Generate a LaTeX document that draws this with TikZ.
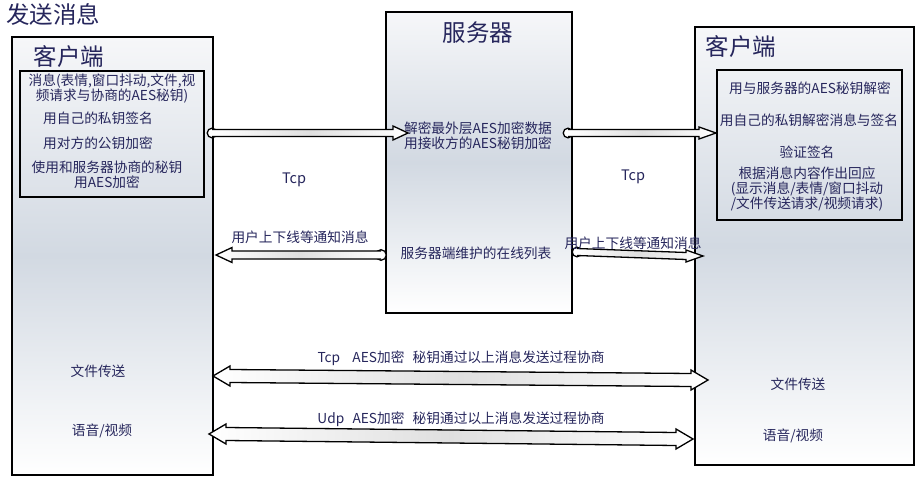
\documentclass[tikz,border=0pt]{standalone}
\usepackage{fontspec}
\setmainfont{Noto Sans CJK SC}
\usetikzlibrary{calc}
\definecolor{txt}{RGB}{38,38,92}
\definecolor{shA}{RGB}{246,247,249}
\definecolor{shM}{RGB}{210,217,226}
\newcommand\blockarrow[5]{% start, tip, h, H, L (signed)
  \draw[line width=1.3pt, fill=white] (#1) circle ({#3+1.3pt});
  \shade[left color=white, right color=white, middle color=gray!25] let \p1=(#1), \p2=(#2) in
    (\x1,\y1+#3) -- (\x2-#5,\y2+#3) -- (\x2-#5,\y2+#4) -- (\x2,\y2) -- (\x2-#5,\y2-#4) -- (\x2-#5,\y2-#3) -- (\x1,\y1-#3) -- cycle;
  \draw[line width=1.3pt] let \p1=(#1), \p2=(#2) in
    (\x1,\y1+#3) -- (\x2-#5,\y2+#3) -- (\x2-#5,\y2+#4) -- (\x2,\y2) -- (\x2-#5,\y2-#4) -- (\x2-#5,\y2-#3) -- (\x1,\y1-#3);
}
\newcommand\dblarrow[5]{% left tip, right tip, h, H, L
  \shade[left color=white, right color=white, middle color=gray!25] let \p1=(#1), \p2=(#2) in
    (\x1,\y1) -- (\x1+#5,\y1+#4) -- (\x1+#5,\y1+#3) -- (\x2-#5,\y2+#3) -- (\x2-#5,\y2+#4) -- (\x2,\y2) -- (\x2-#5,\y2-#4) -- (\x2-#5,\y2-#3) -- (\x1+#5,\y1-#3) -- (\x1+#5,\y1-#4) -- cycle;
  \draw[line width=1.3pt] let \p1=(#1), \p2=(#2) in
    (\x1,\y1) -- (\x1+#5,\y1+#4) -- (\x1+#5,\y1+#3) -- (\x2-#5,\y2+#3) -- (\x2-#5,\y2+#4) -- (\x2,\y2) -- (\x2-#5,\y2-#4) -- (\x2-#5,\y2-#3) -- (\x1+#5,\y1-#3) -- (\x1+#5,\y1-#4) -- cycle;
}
\tikzset{
  box/.style={draw=black, line width=2pt, inner sep=0pt, outer sep=0pt, anchor=north west,
    top color=shA, bottom color=white, middle color=shM},
  innerbox/.style={draw=black, line width=2pt, inner sep=0pt, outer sep=0pt, anchor=north west},
  lbl/.style={text=txt, font=\fontsize{13.7}{15}\selectfont, inner sep=0pt, align=center},
  tcp/.style={text=txt, font=\fontsize{14.5}{16}\selectfont, inner sep=0pt},
  big/.style={text=txt, font=\fontsize{23.5}{25}\selectfont, inner sep=0pt},
}
\begin{document}
\begin{tikzpicture}[x=1pt,y=-1pt]
\useasboundingbox[fill=white] (0,0) rectangle (919,484);
\node[big] (title) at (53,14) {发送消息};
% boxes
\node[box, minimum width=201pt, minimum height=438pt] (lc) at (12,37) {};
\node[box, minimum width=186pt, minimum height=301pt] (srv) at (386,12) {};
\node[box, minimum width=219pt, minimum height=438pt] (rc) at (695,27) {};
\node[innerbox, minimum width=184pt, minimum height=126pt] (lin) at (20,71) {};
\node[innerbox, minimum width=185pt, minimum height=150pt] (rin) at (717,70) {};
% titles
\node[big] (lct) at (69,57) {客户端};
\node[big] (srvt) at (478,33) {服务器};
\node[big] (rct) at (741,47) {客户端};
% left texts
\node[lbl] (l1) at (112,89) {消息(表情,窗口抖动,文件,视\\频请求与协商的AES秘钥)};
\node[lbl] (l2) at (98,118) {用自己的私钥签名};
\node[lbl] (l3) at (98,143) {用对方的公钥加密};
\node[lbl] (l4) at (107,175) {使用和服务器协商的秘钥\\用AES加密};
\node[lbl] (lf) at (98,371) {文件传送};
\node[lbl] (lv) at (102,431) {语音/视频};
% server texts
\node[lbl] (s1) at (478,136) {解密最外层AES加密数据\\用接收方的AES秘钥加密};
\node[lbl] (s2) at (476,253) {服务器端维护的在线列表};
% right texts
\node[lbl] (r1) at (810,88) {用与服务器的AES秘钥解密};
\node[lbl] (r2) at (809,120) {用自己的私钥解密消息与签名};
\node[lbl] (r3) at (807,152) {验证签名};
\node[lbl] (r4) at (807,189) {根据消息内容作出回应\\(显示消息/表情/窗口抖动\\/文件传送请求/视频请求)};
\node[lbl] (rf) at (798,384) {文件传送};
\node[lbl] (rv) at (793,436) {语音/视频};
% arrow end points
\coordinate (a1s) at (212,133);
\coordinate (a1t) at (408,133);
\coordinate (a2s) at (568,133);
\coordinate (a2t) at (716,133);
\coordinate (a3s) at (381,255);
\coordinate (a3t) at (216,255);
\coordinate (a4s) at (577,252);
\coordinate (a4t) at (703,256);
\coordinate (b1l) at (213,376);
\coordinate (b1r) at (708,380);
\coordinate (b2l) at (209,434);
\coordinate (b2r) at (693,439);
\blockarrow{a1s}{a1t}{3.5pt}{7pt}{15pt}
\blockarrow{a2s}{a2t}{3.5pt}{6pt}{17pt}
\blockarrow{a3s}{a3t}{4pt}{7.5pt}{-16pt}
\blockarrow{a4s}{a4t}{3.5pt}{6pt}{17pt}
\dblarrow{b1l}{b1r}{6.5pt}{10pt}{17pt}
\dblarrow{b2l}{b2r}{6.5pt}{10pt}{17pt}
% arrow labels
\node[tcp] (t1) at (294,180) {Tcp};
\node[tcp] (t2) at (633,177) {Tcp};
\node[lbl] (n1) at (300,237) {用户上下线等通知消息};
\node[lbl] (n2) at (633,243) {用户上下线等通知消息};
\node[lbl] (b1t) at (461,358) {Tcp\hspace{0.9em}AES加密\hspace{0.6em}秘钥通过以上消息发送过程协商};
\node[lbl] (b2t) at (461,419) {Udp\hspace{0.6em}AES加密\hspace{0.6em}秘钥通过以上消息发送过程协商};
\end{tikzpicture}
\end{document}
